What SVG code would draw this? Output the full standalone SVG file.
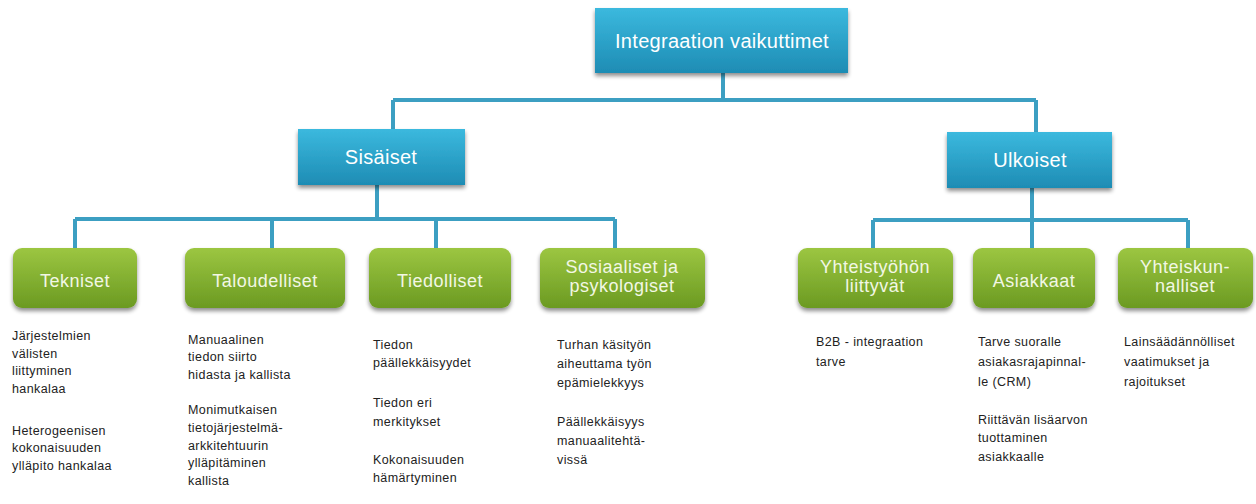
<svg xmlns="http://www.w3.org/2000/svg" width="1256" height="504" viewBox="0 0 1256 504">
  <defs>
    <linearGradient id="blueFill" x1="0" y1="0" x2="0" y2="1">
      <stop offset="0" stop-color="#3bb9de"/>
      <stop offset="1" stop-color="#1e8cb4"/>
    </linearGradient>
    <linearGradient id="greenFill" x1="0" y1="0" x2="0" y2="1">
      <stop offset="0" stop-color="#9cc641"/>
      <stop offset="1" stop-color="#6b9a22"/>
    </linearGradient>
    <filter id="shadow" x="-10%" y="-20%" width="120%" height="150%">
      <feGaussianBlur in="SourceAlpha" stdDeviation="2.2"/>
      <feOffset dx="0" dy="3" result="b"/>
      <feComponentTransfer><feFuncA type="linear" slope="0.45"/></feComponentTransfer>
      <feMerge><feMergeNode/><feMergeNode in="SourceGraphic"/></feMerge>
    </filter>
  </defs>
  <style>
    .blue { fill: url(#blueFill); filter: url(#shadow); }
    .green { fill: url(#greenFill); filter: url(#shadow); }
    .lbl { font-family: "Liberation Sans", Arial, sans-serif; text-anchor: middle; }
    .blbl { fill: #ffffff; font-size: 20px; letter-spacing: 0.3px; }
    .glbl { fill: #f2f7e4; font-size: 18px; letter-spacing: 0.5px; }
    .note { font-family: "Liberation Sans", Arial, sans-serif; font-size: 12.5px; fill: #222222; letter-spacing: 0.4px; }
    .wire { fill: none; stroke: #3c9fc2; stroke-width: 4; stroke-linejoin: miter; }
  </style>
  <rect width="1256" height="504" fill="#ffffff"/>

  <!-- connectors -->
  <g id="connectors" class="wire">
    <path d="M723 73 V100 M393 100 H1036 M393 100 V129 M1036 100 V132"/>
    <path d="M377 185 V219 M75 219 H615 M75 219 V248 M272 219 V248 M436 219 V248 M615 219 V248"/>
    <path d="M1032 188 V220 M873 220 H1188 M873 220 V248 M1032 220 V248 M1188 220 V248"/>
  </g>

  <!-- root -->
  <g id="root">
    <rect class="blue" x="595" y="8" width="253" height="65"/>
    <text class="lbl blbl" x="722" y="48">Integraation vaikuttimet</text>
  </g>

  <!-- level 1 -->
  <g id="sisaiset">
    <rect class="blue" x="298" y="129" width="167" height="56"/>
    <text class="lbl blbl" x="381" y="164">Sisäiset</text>
  </g>
  <g id="ulkoiset">
    <rect class="blue" x="947" y="132" width="165" height="56"/>
    <text class="lbl blbl" x="1030" y="167">Ulkoiset</text>
  </g>

  <!-- level 2 -->
  <g id="tekniset">
    <rect class="green" x="13" y="248" width="124" height="60" rx="9"/>
    <text class="lbl glbl" x="75" y="287">Tekniset</text>
    <text class="note"><tspan x="12" y="340">Järjestelmien</tspan><tspan x="12" y="358">välisten</tspan><tspan x="12" y="375">liittyminen</tspan><tspan x="12" y="393">hankalaa</tspan><tspan x="12" y="435">Heterogeenisen</tspan><tspan x="12" y="452">kokonaisuuden</tspan><tspan x="12" y="470">ylläpito hankalaa</tspan></text>
  </g>
  <g id="taloudelliset">
    <rect class="green" x="185" y="248" width="160" height="60" rx="9"/>
    <text class="lbl glbl" x="265" y="287">Taloudelliset</text>
    <text class="note"><tspan x="188" y="344">Manuaalinen</tspan><tspan x="188" y="361">tiedon siirto</tspan><tspan x="188" y="379">hidasta ja kallista</tspan><tspan x="188" y="414">Monimutkaisen</tspan><tspan x="188" y="432">tietojärjestelmä-</tspan><tspan x="188" y="450">arkkitehtuurin</tspan><tspan x="188" y="467">ylläpitäminen</tspan><tspan x="188" y="485">kallista</tspan></text>
  </g>
  <g id="tiedolliset">
    <rect class="green" x="369" y="248" width="142" height="60" rx="9"/>
    <text class="lbl glbl" x="440" y="287">Tiedolliset</text>
    <text class="note"><tspan x="373" y="349">Tiedon</tspan><tspan x="373" y="367">päällekkäisyydet</tspan><tspan x="373" y="407">Tiedon eri</tspan><tspan x="373" y="426">merkitykset</tspan><tspan x="373" y="464">Kokonaisuuden</tspan><tspan x="373" y="482">hämärtyminen</tspan></text>
  </g>
  <g id="sosiaaliset">
    <rect class="green" x="540" y="248" width="165" height="60" rx="9"/>
    <text class="lbl glbl"><tspan x="622" y="273">Sosiaaliset ja</tspan><tspan x="622" y="292">psykologiset</tspan></text>
    <text class="note"><tspan x="557" y="349">Turhan käsityön</tspan><tspan x="557" y="368">aiheuttama työn</tspan><tspan x="557" y="387">epämielekkyys</tspan><tspan x="557" y="426">Päällekkäisyys</tspan><tspan x="557" y="445">manuaalitehtä-</tspan><tspan x="557" y="464">vissä</tspan></text>
  </g>
  <g id="yhteistyohon">
    <rect class="green" x="798" y="248" width="155" height="60" rx="9"/>
    <text class="lbl glbl"><tspan x="875" y="273">Yhteistyöhön</tspan><tspan x="875" y="292">liittyvät</tspan></text>
    <text class="note"><tspan x="816" y="346">B2B - integraation</tspan><tspan x="816" y="366">tarve</tspan></text>
  </g>
  <g id="asiakkaat">
    <rect class="green" x="973" y="248" width="122" height="60" rx="9"/>
    <text class="lbl glbl" x="1034" y="287">Asiakkaat</text>
    <text class="note"><tspan x="978" y="346">Tarve suoralle</tspan><tspan x="978" y="366">asiakasrajapinnal-</tspan><tspan x="978" y="386">le (CRM)</tspan><tspan x="978" y="424">Riittävän lisäarvon</tspan><tspan x="978" y="442">tuottaminen</tspan><tspan x="978" y="461">asiakkaalle</tspan></text>
  </g>
  <g id="yhteiskunnalliset">
    <rect class="green" x="1118" y="248" width="135" height="60" rx="9"/>
    <text class="lbl glbl"><tspan x="1185" y="273">Yhteiskun-</tspan><tspan x="1185" y="292">nalliset</tspan></text>
    <text class="note"><tspan x="1124" y="346">Lainsäädännölliset</tspan><tspan x="1124" y="366">vaatimukset ja</tspan><tspan x="1124" y="386">rajoitukset</tspan></text>
  </g>
</svg>
